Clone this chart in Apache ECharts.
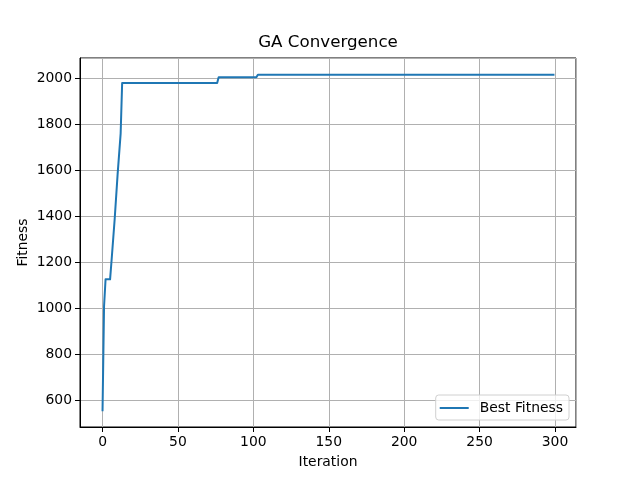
<!DOCTYPE html>
<html>
<head>
<meta charset="utf-8">
<script src="https://cdn.jsdelivr.net/npm/echarts@6/dist/echarts.min.js"></script>
<style>
  html, body { margin: 0; padding: 0; background: #fff; }
  #main { width: 640px; height: 480px; }
</style>
</head>
<body>
<div id="main"></div>
<script>
// line vertices: [iteration, best fitness]
var iterations = [0, 1, 2, 5, 6, 7, 8, 9, 10, 11, 12, 13, 76, 77, 102, 103, 299];
var bestFitness = [558, 1010, 1127, 1127, 1211, 1211, 1385, 1385, 1584, 1584, 1760, 1980, 1980, 2005, 2005, 2016, 2016];
var xTicks = [0, 50, 100, 150, 200, 250, 300];
var yTicks = [600, 800, 1000, 1200, 1400, 1600, 1800, 2000];

var points = iterations.map(function (x, i) { return [x, bestFitness[i]]; });

var font = 'DejaVu Sans';
var myChart = echarts.init(document.getElementById('main'));
myChart.setOption({
    animation: false,
    backgroundColor: '#fff',
    title: {
        text: 'GA Convergence',
        left: 328,
        top: 34,
        padding: 0,
        textAlign: 'center',
        textStyle: { fontFamily: font, fontSize: 16.7, fontWeight: 'normal', color: '#000' }
    },
    grid: {
        left: 80, right: 64, top: 58, bottom: 53,
        show: true, borderColor: '#000', borderWidth: 1, backgroundColor: 'transparent'
    },
    legend: {
        right: 71,
        bottom: 60,
        padding: [6, 6, 5, 4],
        borderColor: '#d0d0d0',
        borderWidth: 1,
        borderRadius: 3,
        backgroundColor: 'rgba(255,255,255,0.8)',
        icon: 'rect',
        itemWidth: 29,
        itemHeight: 2,
        textStyle: { fontFamily: font, fontSize: 13.9, color: '#000', padding: [0, 0, 0, 6] },
        data: ['Best Fitness']
    },
    xAxis: {
        type: 'value',
        min: -14.95,
        max: 313.95,
        splitNumber: 7,
        name: 'Iteration',
        nameLocation: 'middle',
        nameGap: 28,
        nameMoveOverlap: false,
        nameTextStyle: { fontFamily: font, fontSize: 13.9, color: '#000' },
        axisLine: { show: true, onZero: false, lineStyle: { color: '#000', width: 1 } },
        axisTick: { show: true, length: 5, lineStyle: { color: '#000' } },
        axisLabel: {
            margin: 8, fontFamily: font, fontSize: 13.9, color: '#000',
            showMinLabel: false, showMaxLabel: false,
            formatter: function (v) { return xTicks.indexOf(v) >= 0 ? String(v) : ''; }
        },
        splitLine: { show: true, lineStyle: { color: '#b0b0b0', width: 1 } }
    },
    yAxis: {
        type: 'value',
        min: 485,
        max: 2089,
        splitNumber: 8,
        name: 'Fitness',
        nameLocation: 'middle',
        nameGap: 50,
        nameMoveOverlap: false,
        nameTextStyle: { fontFamily: font, fontSize: 13.9, color: '#000' },
        axisLine: { show: true, onZero: false, lineStyle: { color: '#000', width: 1 } },
        axisTick: { show: true, length: 5, lineStyle: { color: '#000' } },
        axisLabel: {
            margin: 8, fontFamily: font, fontSize: 13.9, color: '#000',
            showMinLabel: false, showMaxLabel: false,
            formatter: function (v) { return yTicks.indexOf(v) >= 0 ? String(v) : ''; }
        },
        splitLine: { show: true, lineStyle: { color: '#b0b0b0', width: 1 } }
    },
    series: [{
        name: 'Best Fitness',
        type: 'line',
        data: points,
        showSymbol: false,
        symbol: 'none',
        color: '#1f77b4',
        lineStyle: { color: '#1f77b4', width: 2, join: 'round', cap: 'square' }
    }]
});
</script>
</body>
</html>
